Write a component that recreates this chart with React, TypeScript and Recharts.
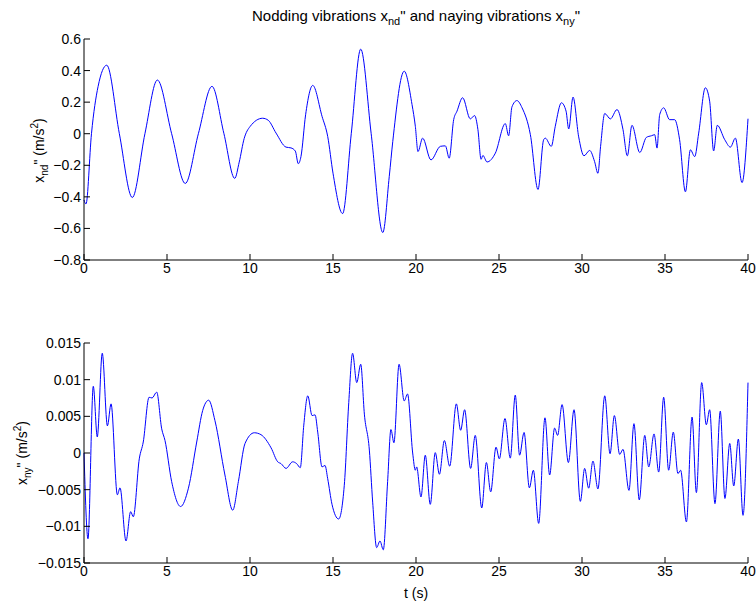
import { LineChart, Line, XAxis, YAxis } from 'recharts'

const FONT = '"Liberation Sans", Arial, Helvetica, sans-serif'
const BLUE = '#0000ff'

// shared time axis
const timeTicks = [0, 5, 10, 15, 20, 25, 30, 35, 40]

// nodding acceleration x_nd'' (m/s^2), sampled at the turning points
const noddingTime = [
  0, 0.12, 0.45, 0.85, 1.37, 2.13, 2.91, 3.67, 4.42, 5.28,
  6.1, 6.89, 7.71, 8.43, 9.08, 9.35, 9.65, 10.0, 10.76, 11.1,
  11.57, 12.17, 12.47, 12.73, 12.91, 13.07, 13.35, 13.78, 14.34, 14.68,
  15.0, 15.58, 16.1, 16.67, 17.3, 18.0, 18.39, 18.6, 19.29, 19.76,
  19.96, 20.12, 20.4, 20.9, 21.47, 21.77, 22.0, 22.27, 22.47, 22.81,
  23.27, 23.53, 23.73, 23.92, 24.03, 24.28, 24.78, 25.38, 25.58, 25.78,
  26.08, 26.39, 26.89, 27.35, 27.69, 27.79, 28.15, 28.39, 28.76, 29.04,
  29.2, 29.46, 29.8, 30.12, 30.46, 30.76, 30.96, 31.12, 31.37, 31.71,
  32.11, 32.47, 32.73, 33.01, 33.48, 33.88, 34.18, 34.38, 34.52, 34.68,
  34.92, 35.28, 35.58, 35.88, 36.23, 36.53, 36.79, 37.03, 37.43, 37.69,
  37.93, 38.15, 38.6, 38.94, 39.24, 39.64, 40,
]
const noddingAcc = [
  -0.42, -0.445, 0.0, 0.3, 0.434, 0.0, -0.404, 0.0, 0.34, 0.0,
  -0.315, 0.0, 0.3, 0.0, -0.283, -0.18, -0.03, 0.045, 0.098, 0.085,
  0.004, -0.085, -0.09, -0.11, -0.19, -0.145, 0.12, 0.306, 0.11, -0.017,
  -0.25, -0.506, 0.0, 0.536, 0.0, -0.626, -0.27, -0.05, 0.396, 0.185,
  0.047, -0.113, -0.028, -0.166, -0.08, -0.077, -0.155, 0.089, 0.143, 0.228,
  0.094, 0.115, 0.026, -0.162, -0.138, -0.179, -0.123, 0.064, -0.013, 0.17,
  0.21, 0.164, -0.006, -0.353, -0.038, -0.028, -0.08, 0.047, 0.196, 0.143,
  0.03, 0.232, -0.02, -0.14, -0.106, -0.177, -0.251, -0.08, 0.128, 0.094,
  0.153, 0.026, -0.14, 0.053, -0.119, -0.023, -0.013, -0.006, -0.091, 0.121,
  0.164, 0.089, 0.089, -0.038, -0.368, -0.102, -0.145, 0.004, 0.291, 0.206,
  -0.109, 0.053, -0.038, -0.085, -0.028, -0.31, 0.095,
]
const noddingTicks = [-0.8, -0.6, -0.4, -0.2, 0, 0.2, 0.4, 0.6]

// naying acceleration x_ny'' (m/s^2)
const nayingTime = [
  0, 0.24, 0.56, 0.8, 1.1, 1.41, 1.63, 2.01, 2.17, 2.53,
  2.81, 2.97, 3.33, 3.57, 3.92, 4.1, 4.38, 4.68, 4.88, 5.28,
  5.82, 6.29, 6.79, 7.15, 7.51, 7.89, 8.49, 8.96, 9.3, 9.7,
  10.26, 10.66, 11.27, 11.67, 11.87, 12.17, 12.57, 12.81, 13.03, 13.24,
  13.48, 13.74, 13.92, 14.08, 14.34, 14.52, 14.68, 14.94, 15.34, 15.68,
  15.95, 16.18, 16.43, 16.67, 16.89, 17.19, 17.39, 17.63, 17.83, 18.03,
  18.29, 18.49, 18.67, 18.98, 19.29, 19.49, 19.8, 19.96, 20.04, 20.3,
  20.56, 20.86, 21.16, 21.41, 21.71, 22.03, 22.43, 22.69, 22.93, 23.29,
  23.57, 23.96, 24.24, 24.5, 24.82, 25.02, 25.36, 25.68, 25.98, 26.24,
  26.51, 26.83, 27.07, 27.39, 27.77, 28.05, 28.35, 28.53, 28.8, 29.18,
  29.52, 29.9, 30.16, 30.4, 30.66, 30.96, 31.37, 31.69, 31.95, 32.27,
  32.47, 32.83, 33.13, 33.45, 33.78, 34.02, 34.34, 34.62, 34.92, 35.22,
  35.5, 35.78, 35.94, 36.29, 36.63, 36.89, 37.21, 37.49, 37.69, 38.01,
  38.33, 38.61, 38.9, 39.14, 39.42, 39.7, 40,
]
const nayingAcc = [
  0, -0.0117, 0.0091, 0.0022, 0.0136, 0.0037, 0.0067, -0.0057, -0.00475, -0.012,
  -0.008, -0.0087, -0.0008, 0.0015, 0.0076, 0.0075, 0.0083, 0.0033, 0.0017, -0.0039,
  -0.0073, -0.0048, 0.0015, 0.0058, 0.0072, 0.0044, -0.003, -0.0078, -0.0039, 0.0013,
  0.00276, 0.0025, 0.0007, -0.0012, -0.00145, -0.0021, -0.0012, -0.00145, -0.002, 0.0038,
  0.0078, 0.0051, 0.0052, 0.00285, -0.0019, -0.0017, -0.0035, -0.007, -0.009, -0.0044,
  0.0069, 0.0136, 0.0096, 0.0121, 0.0053, 0.0004, -0.0067, -0.0129, -0.012, -0.0132,
  -0.0039, 0.0032, 0.0014, 0.0121, 0.0071, 0.00805, 0, -0.00235, -0.0019, -0.006,
  -0.0003, -0.007, 0.00005, -0.0029, 0.0017, -0.0018, 0.0067, 0.0031, 0.0059, -0.0021,
  0.0024, -0.0075, -0.0013, -0.0053, 0.0008, -0.0008, 0.0047, -0.0007, 0.0079, -0.0003,
  0.0028, -0.00475, -0.00235, -0.0096, 0.0048, -0.003, 0.0034, 0.0024, 0.0066, -0.0013,
  0.0059, -0.0066, -0.0021, -0.0048, -0.0011, -0.0049, 0.0078, -0.0001, 0.0051, -0.0002,
  0.0005, -0.0051, 0.004, -0.0064, 0.0024, -0.0019, 0.0026, -0.0026, 0.0076, -0.00235,
  0.00285, -0.0028, -0.00235, -0.0094, 0.0049, -0.0054, 0.0096, 0.00385, 0.0059, -0.0069,
  0.0057, -0.0062, 0.0013, -0.0045, 0.0019, -0.0085, 0.0096,
]
const nayingTicks = [-0.015, -0.01, -0.005, 0, 0.005, 0.01, 0.015]

const noddingData = noddingTime.map((t, i) => ({ t, a: noddingAcc[i] }))
const nayingData = nayingTime.map((t, i) => ({ t, a: nayingAcc[i] }))

function fmtTick(v: number) {
  return v < 0 ? `\u2212${-v}` : String(v)
}

const tickStyle = { fill: '#000', fontSize: 14, fontFamily: FONT }

// rotated axis title: x_sub'' (m/s^2)
function AccTitle({ bx, by, sub }: { bx: number; by: number; sub: string }) {
  return (
    <text
      transform={`translate(${bx},${by}) rotate(-90)`}
      textAnchor="middle"
      fontSize={14}
      fontFamily={FONT}
      fill="#000"
    >
      x<tspan fontSize={10} dy={4}>{sub}</tspan>
      <tspan dy={-4}>{'" (m/s'}</tspan>
      <tspan fontSize={10} dy={-6}>2</tspan>
      <tspan dy={6}>)</tspan>
    </text>
  )
}

export default function App() {
  return (
    <div style={{ position: 'absolute', left: 0, top: 0, width: 756, height: 606, background: '#fff' }}>
      <svg width={756} height={32} style={{ position: 'absolute', left: 0, top: 0 }}>
        <text x={416} y={21} textAnchor="middle" fontSize={15} fontFamily={FONT} fill="#000">
          Nodding vibrations x<tspan fontSize={11} dy={4}>nd</tspan>
          <tspan dy={-4}>{'" and naying vibrations x'}</tspan>
          <tspan fontSize={11} dy={4}>ny</tspan>
          <tspan dy={-4}>"</tspan>
        </text>
      </svg>

      <div style={{ position: 'absolute', left: 0, top: 0 }}>
        <LineChart width={756} height={300} data={noddingData} margin={{ top: 39, right: 8, bottom: 10, left: 0 }}>
          <XAxis
            type="number"
            dataKey="t"
            domain={[0, 40]}
            ticks={timeTicks}
            interval={0}
            height={30}
            tickSize={-6}
            tickMargin={9}
            stroke="#000"
            tick={tickStyle}
          />
          <YAxis
            type="number"
            domain={[-0.8, 0.6]}
            ticks={noddingTicks}
            interval={0}
            width={84}
            tickSize={-6}
            tickMargin={9}
            stroke="#000"
            tick={tickStyle}
            tickFormatter={fmtTick}
            label={<AccTitle bx={44} by={150.5} sub="nd" />}
          />
          <Line type="monotone" dataKey="a" stroke={BLUE} strokeWidth={1} dot={false} isAnimationActive={false} />
        </LineChart>
      </div>

      <div style={{ position: 'absolute', left: 0, top: 300 }}>
        <LineChart width={756} height={306} data={nayingData} margin={{ top: 43, right: 8, bottom: 0, left: 0 }}>
          <XAxis
            type="number"
            dataKey="t"
            domain={[0, 40]}
            ticks={timeTicks}
            interval={0}
            height={43}
            tickSize={-6}
            tickMargin={9}
            stroke="#000"
            tick={tickStyle}
            label={{ value: 't (s)', position: 'insideBottom', offset: 8, fill: '#000', fontSize: 14, fontFamily: FONT }}
          />
          <YAxis
            type="number"
            domain={[-0.015, 0.015]}
            ticks={nayingTicks}
            interval={0}
            width={84}
            tickSize={-6}
            tickMargin={9}
            stroke="#000"
            tick={tickStyle}
            tickFormatter={fmtTick}
            label={<AccTitle bx={27} by={153} sub="ny" />}
          />
          <Line type="monotone" dataKey="a" stroke={BLUE} strokeWidth={1} dot={false} isAnimationActive={false} />
        </LineChart>
      </div>
    </div>
  )
}
